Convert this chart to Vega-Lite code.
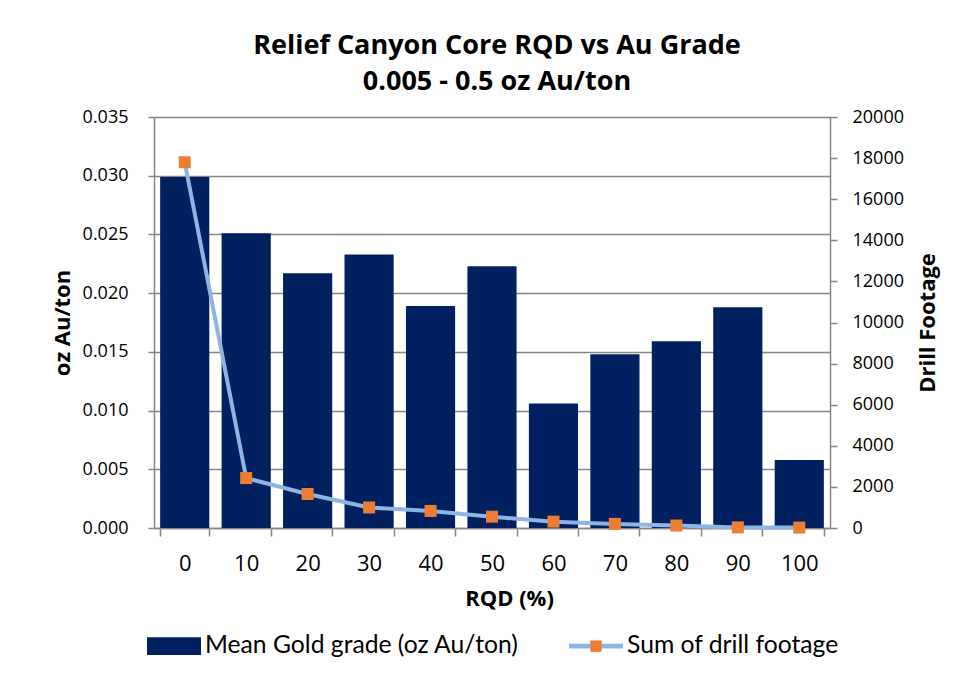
{
  "$schema": "https://vega.github.io/schema/vega-lite/v6.json",
  "width": 676,
  "height": 411,
  "autosize": "none",
  "padding": {"left": 154, "top": 117, "right": 128, "bottom": 155},
  "background": "white",
  "config": {
    "font": "Open Sans",
    "view": {"stroke": null},
    "axis": {"domainColor": "#868686", "tickColor": "#868686", "labelColor": "black", "titleColor": "black", "domainWidth": 1.5, "tickWidth": 1.5, "labelFont": "Open Sans", "titleFont": "Open Sans"}
  },
  "title": {
    "text": ["Relief Canyon Core RQD vs Au Grade", "0.005 - 0.5 oz Au/ton"],
    "font": "Open Sans",
    "fontSize": 27,
    "fontWeight": "bold",
    "lineHeight": 36,
    "offset": 12,
    "anchor": "middle",
    "dx": 5,
    "color": "black"
  },
  "data": {
    "values": [
      {"rqd": 0, "grade": 0.0299, "footage": 17800},
      {"rqd": 10, "grade": 0.0251, "footage": 2430},
      {"rqd": 20, "grade": 0.0217, "footage": 1655},
      {"rqd": 30, "grade": 0.0233, "footage": 1000},
      {"rqd": 40, "grade": 0.0189, "footage": 830},
      {"rqd": 50, "grade": 0.0223, "footage": 550},
      {"rqd": 60, "grade": 0.0106, "footage": 310},
      {"rqd": 70, "grade": 0.0148, "footage": 200},
      {"rqd": 80, "grade": 0.0159, "footage": 120},
      {"rqd": 90, "grade": 0.0188, "footage": 30},
      {"rqd": 100, "grade": 0.0058, "footage": 20}
    ]
  },
  "encoding": {
    "x": {
      "field": "rqd",
      "type": "ordinal",
      "scale": {"paddingInner": 0.2, "paddingOuter": 0.1},
      "axis": {
        "title": "RQD (%)",
        "labelAngle": 0,
        "tickBand": "extent",
        "tickSize": 8,
        "labelFontSize": 22,
        "titleFontSize": 22,
        "titleFontWeight": "bold",
        "labelPadding": 17,
        "titlePadding": 14,
        "titleX": 355,
        "grid": false
      }
    }
  },
  "layer": [
    {
      "mark": {"type": "bar"},
      "encoding": {
        "y": {
          "field": "grade",
          "type": "quantitative",
          "scale": {"domain": [0, 0.035], "nice": false},
          "axis": {
            "title": "oz Au/ton",
            "values": [0, 0.005, 0.01, 0.015, 0.02, 0.025, 0.03, 0.035],
            "format": ".3f",
            "grid": true,
            "gridColor": "#868686",
            "gridWidth": 1.5,
            "tickSize": 6,
            "labelPadding": 20,
            "labelFontSize": 18,
            "titleFontSize": 22,
            "titleFontWeight": "bold",
            "titlePadding": 8
          }
        },
        "color": {
          "datum": "Mean Gold grade (oz Au/ton)",
          "scale": {"domain": ["Mean Gold grade (oz Au/ton)", "Sum of drill footage"], "range": ["#002060", "#8DB4E2"]},
          "legend": {
            "orient": "none",
            "legendX": -7,
            "legendY": 502,
            "direction": "horizontal",
            "title": null,
            "labelFont": "Lato",
            "labelFontSize": 24.7,
            "labelColor": "black",
            "labelLimit": 500,
            "symbolSize": 2916,
            "columnPadding": 50,
            "labelOffset": 4,
            "encode": {
              "symbols": {
                "update": {
                  "shape": {"signal": "datum.value === 'Sum of drill footage' ? 'M-1,-0.09H-0.2V0.09H-1Z M0.2,-0.09H1V0.09H0.2Z' : 'M-1,-0.33H1V0.33H-1Z'"},
                  "strokeWidth": {"value": 0},
                  "fill": {"signal": "datum.value === 'Sum of drill footage' ? '#8DB4E2' : '#002060'"},
                  "opacity": {"value": 1}
                }
              }
            }
          }
        }
      }
    },
    {
      "layer": [
        {
          "mark": {"type": "line", "strokeWidth": 4},
          "encoding": {
            "y": {
              "field": "footage",
              "type": "quantitative",
              "scale": {"domain": [0, 20000], "nice": false},
              "axis": {
                "orient": "right",
                "title": "Drill Footage",
                "titleAngle": 270,
                "values": [0, 2000, 4000, 6000, 8000, 10000, 12000, 14000, 16000, 18000, 20000],
                "format": "d",
                "grid": false,
                "tickSize": 7,
                "labelPadding": 15,
                "labelFontSize": 18,
                "titleFontSize": 22,
                "titleFontWeight": "bold",
                "titlePadding": 36
              }
            },
            "color": {"datum": "Sum of drill footage"}
          }
        },
        {
          "mark": {"type": "point", "filled": true, "color": "#ED7D31", "size": 3265, "opacity": 1},
          "encoding": {
            "y": {"field": "footage", "type": "quantitative"},
            "shape": {
              "datum": "Sum of drill footage",
              "scale": {"domain": ["Sum of drill footage", "Mean Gold grade (oz Au/ton)"], "range": ["M-0.21,-0.21H0.21V0.21H-0.21Z", "M0,0"]},
              "legend": {
                "orient": "none",
                "legendX": -7,
                "legendY": 502,
                "direction": "horizontal",
                "title": null,
                "values": ["Mean Gold grade (oz Au/ton)", "Sum of drill footage"],
                "labelFont": "Lato",
                "labelFontSize": 24.7,
                "labelColor": "rgba(0,0,0,0)",
                "labelLimit": 500,
                "symbolSize": 2916,
                "columnPadding": 50,
                "labelOffset": 4,
                "symbolFillColor": "#ED7D31",
                "symbolStrokeWidth": 0,
                "encode": {
                  "symbols": {
                    "update": {
                      "fill": {"value": "#ED7D31"},
                      "strokeWidth": {"value": 0},
                      "opacity": {"signal": "datum.value === 'Sum of drill footage' ? 1 : 0"}
                    }
                  }
                }
              }
            }
          }
        }
      ]
    }
  ],
  "resolve": {"scale": {"y": "independent"}}
}
